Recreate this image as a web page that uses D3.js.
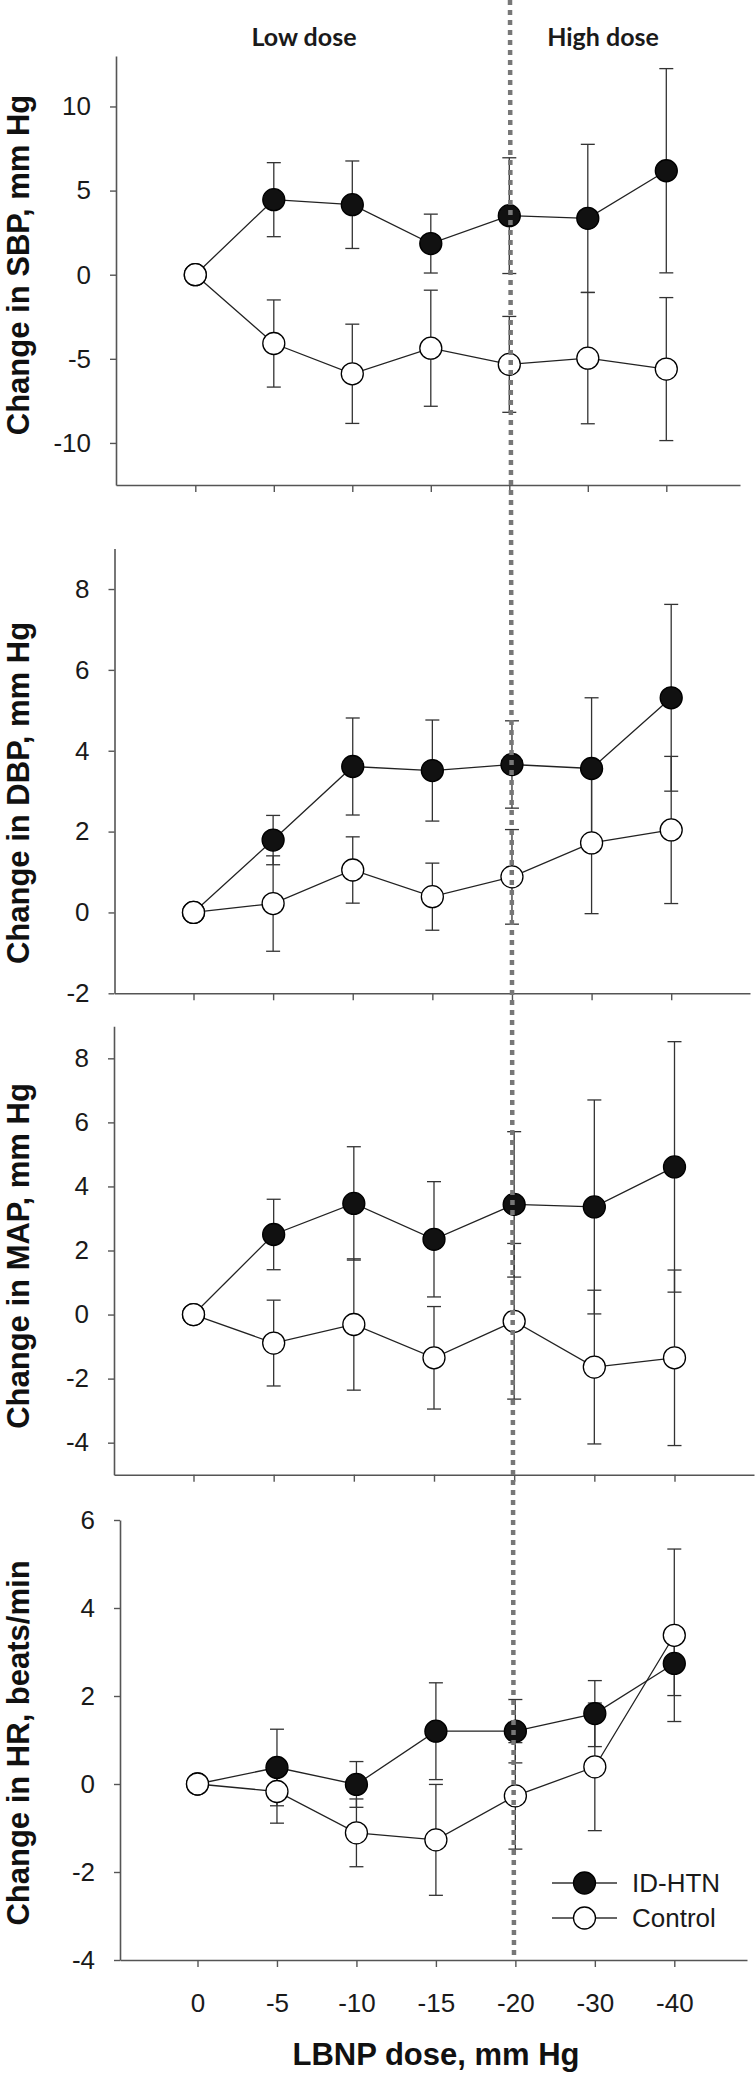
<!DOCTYPE html>
<html><head><meta charset="utf-8">
<script src="https://cdn.jsdelivr.net/npm/d3@7"></script>
<style>body{margin:0;background:#fff}</style>
</head><body>
<svg id="chart" width="756" height="2081" xmlns="http://www.w3.org/2000/svg"></svg>
<script>
// ---------- data ----------
const doses = ["0", "-5", "-10", "-15", "-20", "-30", "-40"];
const seriesNames = ["ID-HTN", "Control"];
const phaseLabels = ["Low dose", "High dose"];

const sbpIdHtn    = [0, 4.46, 4.16, 1.85, 3.51, 3.35, 6.18];
const sbpIdHtnErr = [0, 2.2, 2.6, 1.75, 3.44, 4.4, 6.07];
const sbpControl    = [0, -4.09, -5.89, -4.37, -5.33, -4.96, -5.61];
const sbpControlErr = [0, 2.59, 2.95, 3.45, 2.85, 3.9, 4.25];
const sbpTicks = [-10, -5, 0, 5, 10];

const dbpIdHtn    = [0, 1.79, 3.61, 3.51, 3.66, 3.56, 5.31];
const dbpIdHtnErr = [0, 0.61, 1.2, 1.25, 1.08, 1.75, 2.31];
const dbpControl    = [0, 0.22, 1.05, 0.39, 0.88, 1.72, 2.04];
const dbpControlErr = [0, 1.18, 0.82, 0.83, 1.17, 1.75, 1.82];
const dbpTicks = [-2, 0, 2, 4, 6, 8];

const mapIdHtn    = [0, 2.5, 3.47, 2.35, 3.44, 3.36, 4.61];
const mapIdHtnErr = [0, 1.1, 1.77, 1.8, 2.27, 3.34, 3.91];
const mapControl    = [0, -0.89, -0.31, -1.35, -0.21, -1.64, -1.35];
const mapControlErr = [0, 1.34, 2.05, 1.6, 2.43, 2.4, 2.74];
const mapTicks = [-4, -2, 0, 2, 4, 6, 8];

const hrIdHtn    = [0, 0.375, -0.01, 1.2, 1.2, 1.6, 2.74];
const hrIdHtnErr = [0, 0.87, 0.52, 1.1, 0.72, 0.75, 0.73];
const hrControl    = [0, -0.17, -1.11, -1.27, -0.27, 0.39, 3.38];
const hrControlErr = [0, 0.72, 0.77, 1.26, 1.21, 1.45, 1.96];
const hrTicks = [-4, -2, 0, 2, 4, 6];

// ---------- layout ----------
const panels = [
  {title: "Change in SBP, mm Hg", id: sbpIdHtn, idErr: sbpIdHtnErr, ctl: sbpControl, ctlErr: sbpControlErr, ticks: sbpTicks,
   domain: [-12.5, 13], top: 56, bottom: 485, axisX: 116, axisRight: 740, x0: 195.3, x6: 666.3, titleY: 265, labels: false},
  {title: "Change in DBP, mm Hg", id: dbpIdHtn, idErr: dbpIdHtnErr, ctl: dbpControl, ctlErr: dbpControlErr, ticks: dbpTicks,
   domain: [-2, 9], top: 548.6, bottom: 993.3, axisX: 114.5, axisRight: 750, x0: 193.5, x6: 671.2, titleY: 793, labels: false},
  {title: "Change in MAP, mm Hg", id: mapIdHtn, idErr: mapIdHtnErr, ctl: mapControl, ctlErr: mapControlErr, ticks: mapTicks,
   domain: [-5, 9], top: 1026.3, bottom: 1474.7, axisX: 114, axisRight: 754, x0: 193.5, x6: 674.5, titleY: 1256, labels: false},
  {title: "Change in HR, beats/min", id: hrIdHtn, idErr: hrIdHtnErr, ctl: hrControl, ctlErr: hrControlErr, ticks: hrTicks,
   domain: [-4, 6], top: 1520, bottom: 1960, axisX: 120, axisRight: 747, x0: 197.5, x6: 674.3, titleY: 1743, labels: true}
];

const svg = d3.select("#chart");
const axisColor = "#555";
const tickFont = "'Liberation Sans Narrow', 'Arial Narrow', 'Liberation Sans', Arial, sans-serif";
const sansFont = "'Liberation Sans', Arial, Helvetica, sans-serif";

panels.forEach(p => {
  const g = svg.append("g");
  const dx = (p.x6 - p.x0) / 6;
  const x = d3.scaleLinear()
    .domain([(p.axisX - p.x0) / dx, (p.axisRight - p.x0) / dx])
    .range([p.axisX, p.axisRight]);
  const y = d3.scaleLinear().domain(p.domain).range([p.bottom, p.top]);

  // y axis
  const ya = g.append("g").attr("transform", `translate(${p.axisX},0)`)
    .call(d3.axisLeft(y).tickValues(p.ticks).tickSize(6).tickSizeOuter(0).tickPadding(19)
      .tickFormat(d => String(d)));
  ya.select(".domain").attr("stroke", axisColor).attr("stroke-width", 1.6);
  ya.selectAll(".tick line").attr("stroke", axisColor).attr("stroke-width", 1.4);
  ya.selectAll(".tick text").attr("font-family", tickFont).attr("font-size", 26).attr("fill", "#1a1a1a");

  // x axis
  const xa = g.append("g").attr("transform", `translate(0,${p.bottom})`)
    .call(d3.axisBottom(x).tickValues(d3.range(doses.length)).tickSize(7).tickSizeOuter(0).tickPadding(27)
      .tickFormat(i => p.labels ? doses[i] : ""));
  xa.select(".domain").attr("stroke", axisColor).attr("stroke-width", 1.6);
  xa.selectAll(".tick line").attr("stroke", axisColor).attr("stroke-width", 1.4);
  xa.selectAll(".tick text").attr("font-family", tickFont).attr("font-size", 26).attr("fill", "#1a1a1a");

  // y title
  g.append("text")
    .attr("transform", `translate(29,${p.titleY}) rotate(-90)`)
    .attr("text-anchor", "middle")
    .attr("font-family", sansFont).attr("font-weight", "bold").attr("font-size", 31)
    .attr("fill", "#111")
    .text(p.title);

  const series = [
    {vals: p.id, errs: p.idErr, fill: "#111"},
    {vals: p.ctl, errs: p.ctlErr, fill: "#fff"}
  ];

  // error bars
  series.forEach(s => {
    const eb = g.append("g").attr("stroke", "#333").attr("stroke-width", 1.3);
    s.vals.forEach((v, i) => {
      const e = s.errs[i];
      if (!e) return;
      const cx = x(i);
      eb.append("line").attr("x1", cx).attr("x2", cx).attr("y1", y(v - e)).attr("y2", y(v + e));
      eb.append("line").attr("x1", cx - 7).attr("x2", cx + 7).attr("y1", y(v - e)).attr("y2", y(v - e));
      eb.append("line").attr("x1", cx - 7).attr("x2", cx + 7).attr("y1", y(v + e)).attr("y2", y(v + e));
    });
  });

  // lines
  const line = d3.line().x((d, i) => x(i)).y(d => y(d));
  series.forEach(s => {
    g.append("path").datum(s.vals).attr("d", line)
      .attr("fill", "none").attr("stroke", "#222").attr("stroke-width", 1.3);
  });

  // markers
  series.forEach(s => {
    g.append("g").selectAll("circle").data(s.vals).join("circle")
      .attr("cx", (d, i) => x(i)).attr("cy", d => y(d)).attr("r", 11)
      .attr("fill", s.fill).attr("stroke", "#000").attr("stroke-width", 1.3);
  });

  if (p.labels) {
    // legend
    const legendY = [1883, 1918];
    const fills = ["#111", "#fff"];
    seriesNames.forEach((name, k) => {
      const lg = svg.append("g");
      lg.append("line").attr("x1", 552).attr("x2", 617).attr("y1", legendY[k]).attr("y2", legendY[k])
        .attr("stroke", "#333").attr("stroke-width", 1.3);
      lg.append("circle").attr("cx", 584.5).attr("cy", legendY[k]).attr("r", 11)
        .attr("fill", fills[k]).attr("stroke", "#000").attr("stroke-width", 1.3);
      lg.append("text").attr("x", 632).attr("y", legendY[k]).attr("dy", "0.35em")
        .attr("font-family", sansFont).attr("font-size", 26).attr("fill", "#1a1a1a").text(name);
    });
    // x title
    svg.append("text").attr("x", 436).attr("y", 2065).attr("text-anchor", "middle")
      .attr("font-family", sansFont).attr("font-weight", "bold").attr("font-size", 31)
      .attr("fill", "#111").text("LBNP dose, mm Hg");
  }
});

// phase labels
const phaseX = [304, 603];
phaseLabels.forEach((t, k) => {
  svg.append("text").attr("x", phaseX[k]).attr("y", 45.7).attr("text-anchor", "middle")
    .attr("font-family", "Lato, 'Open Sans', sans-serif").attr("font-weight", "bold").attr("font-size", 25)
    .attr("fill", "#1a1a1a").text(t);
});

// dotted divider between low and high dose
svg.append("line").attr("x1", 510).attr("x2", 514).attr("y1", 0).attr("y2", 1960)
  .attr("stroke", "#777").attr("stroke-width", 4.5).attr("stroke-dasharray", "5,5");
</script>
</body></html>
